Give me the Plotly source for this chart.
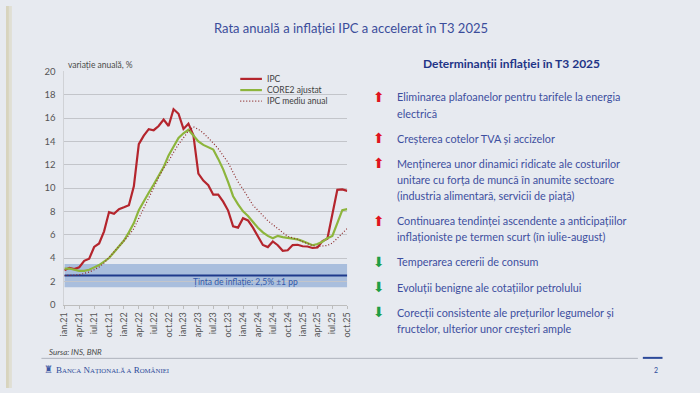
import plotly.graph_objects as go

# ---------------- data ----------------
months_ro = ["ian", "feb", "mar", "apr", "mai", "iun", "iul", "aug", "sep", "oct", "nov", "dec"]
years = ["21", "22", "23", "24", "25"]
categories = [f"{m}.{y}" for y in years for m in months_ro][:58]
tick_labels = categories[::3]

ipc = [2.96, 3.16, 3.05, 3.21, 3.76, 3.94, 4.95, 5.25, 6.29, 7.94, 7.80, 8.19,
       8.35, 8.53, 10.15, 13.76, 14.49, 15.05, 14.96, 15.32, 15.88, 15.32, 16.76, 16.37,
       15.07, 15.52, 14.53, 11.23, 10.64, 10.25, 9.43, 9.43, 8.83, 8.07, 6.72, 6.61,
       7.41, 7.23, 6.61, 5.90, 5.12, 4.94, 5.42, 5.10, 4.62, 4.67, 5.11, 5.14,
       5.01, 4.99, 4.86, 4.90, 5.45, 5.66, 7.84, 9.85, 9.88, 9.76]

core2_ajustat = [3.1, 3.1, 3.0, 2.9, 2.9, 3.0, 3.2, 3.4, 3.7, 4.0, 4.5, 5.0,
                 5.5, 6.2, 7.0, 8.1, 8.9, 9.6, 10.3, 11.0, 11.8, 12.8, 13.6, 14.3,
                 14.7, 15.0, 14.5, 14.0, 13.7, 13.5, 13.3, 12.5, 11.6, 10.5, 9.3, 8.6,
                 8.0, 7.6, 7.1, 6.6, 6.2, 5.9, 5.7, 5.9, 5.8, 5.75, 5.7, 5.6,
                 5.45, 5.3, 5.1, 5.2, 5.4, 5.7, 5.9, 7.0, 8.1, 8.2]

ipc_mediu_anual = [2.50, 2.51, 2.51, 2.56, 2.68, 2.79, 3.00, 3.23, 3.58, 4.06, 4.53, 5.04,
                   5.49, 5.94, 6.53, 7.41, 8.30, 9.23, 10.06, 10.90, 11.70, 12.32, 13.06, 13.75,
                   14.31, 14.89, 15.25, 15.04, 14.72, 14.32, 13.86, 13.37, 12.78, 12.18, 11.34, 10.53,
                   9.89, 9.20, 8.54, 8.09, 7.63, 7.19, 6.86, 6.50, 6.15, 5.86, 5.73, 5.61,
                   5.41, 5.22, 5.07, 4.99, 5.02, 5.08, 5.28, 5.68, 6.11, 6.54]

series_names = ["IPC", "CORE2 ajustat", "IPC mediu anual"]
target = 2.5
target_tol = 1.0
y_ticks = list(range(0, 21, 2))

title_text = "Rata anuală a inflației IPC a accelerat în T3 2025"
panel_title = "Determinanții inflației în T3 2025"
drivers = [
    ("up", ["Eliminarea plafoanelor pentru tarifele la energia", "electrică"]),
    ("up", ["Creșterea cotelor TVA și accizelor"]),
    ("up", ["Menținerea unor dinamici ridicate ale costurilor",
            "unitare cu forța de muncă în anumite sectoare",
            "(industria alimentară, servicii de piață)"]),
    ("up", ["Continuarea tendinței ascendente a anticipațiilor",
            "inflaționiste pe termen scurt (în iulie-august)"]),
    ("down", ["Temperarea cererii de consum"]),
    ("down", ["Evoluții benigne ale cotațiilor petrolului"]),
    ("down", ["Corecții consistente ale prețurilor legumelor și",
              "fructelor, ulterior unor creșteri ample"]),
]
driver_line_y = [[93.5, 110.7], [136], [161.7, 178.5, 195.3], [220.7, 237.5], [263.3], [289.3], [315, 331.5]]

# ---------------- styling ----------------
W, H = 700, 393
def px(x):
    return x / W
def py(y):
    return 1 - y / H

BG = "#e7eaf0"
RED = "#b4252d"
GREEN = "#8db53c"
DOT = "#8e2a2a"
FONT = "Lato"
colors = [RED, GREEN, DOT]

fig = go.Figure()
fig.add_trace(go.Scatter(x=categories, y=ipc, name=series_names[0], mode="lines",
                         line=dict(color=RED, width=2.2)))
fig.add_trace(go.Scatter(x=categories, y=core2_ajustat, name=series_names[1], mode="lines",
                         line=dict(color=GREEN, width=2.2)))
fig.add_trace(go.Scatter(x=categories, y=ipc_mediu_anual, name=series_names[2], mode="lines",
                         line=dict(color=DOT, width=1.2, dash="1px,2px")))

shapes = []
# target band and line
shapes.append(dict(type="rect", xref="x", yref="y", x0=0, x1=len(categories) - 1,
                   y0=target - target_tol, y1=target + target_tol,
                   fillcolor="#a9bedd", line=dict(width=0), layer="below"))
shapes.append(dict(type="line", xref="x", yref="y", x0=0, x1=len(categories) - 1,
                   y0=target, y1=target, line=dict(color="#1f3a8c", width=2), layer="below"))
# left edge tint (photo edge)
shapes.append(dict(type="rect", xref="paper", yref="paper", x0=0, x1=px(3), y0=0, y1=1,
                   fillcolor="#d8d4be", line=dict(width=0), layer="below"))
shapes.append(dict(type="rect", xref="paper", yref="paper", x0=px(3), x1=px(6), y0=0, y1=1,
                   fillcolor="#e0dfd4", line=dict(width=0), layer="below"))
# footer lines
shapes.append(dict(type="line", xref="paper", yref="paper", x0=px(36), x1=px(642),
                   y0=py(362.5), y1=py(362.5), line=dict(color="#aeb3bc", width=1)))
shapes.append(dict(type="line", xref="paper", yref="paper", x0=px(647), x1=px(667),
                   y0=py(362), y1=py(362), line=dict(color="#2c4a9a", width=2)))

annotations = []
# title
annotations.append(dict(text=title_text, x=0.5, y=py(23), xref="paper", yref="paper",
                        showarrow=False, xanchor="center", yanchor="middle",
                        font=dict(family=FONT, size=13, color="#3b4d9b")))
# y axis caption
annotations.append(dict(text="variație anuală, %", x=px(61), y=py(61), xref="paper", yref="paper",
                        showarrow=False, xanchor="left", yanchor="middle",
                        font=dict(family=FONT, size=8.5, color="#4a4a4a")))
# target label
annotations.append(dict(text="Ținta de inflație: 2,5% ±1 pp", x=px(243), y=py(283.5), xref="paper",
                        yref="paper", showarrow=False, xanchor="center", yanchor="middle",
                        font=dict(family=FONT, size=8.5, color="#3157a8")))
# manual legend
leg_y = [75, 86.5, 97.8]
dashes = ["solid", "solid", "1px,2px"]
widths = [2.2, 2.2, 1.2]
for name, c, ly, d, w in zip(series_names, colors, leg_y, dashes, widths):
    shapes.append(dict(type="line", xref="paper", yref="paper", x0=px(238), x1=px(260),
                       y0=py(ly), y1=py(ly), line=dict(color=c, width=w, dash=d)))
    annotations.append(dict(text=name, x=px(263), y=py(ly), xref="paper", yref="paper",
                            showarrow=False, xanchor="left", yanchor="middle",
                            font=dict(family=FONT, size=8.5, color="#404040")))
# right panel
annotations.append(dict(text=f"<b>{panel_title}</b>", x=px(514), y=py(59.3), xref="paper",
                        yref="paper", showarrow=False, xanchor="center", yanchor="middle",
                        font=dict(family=FONT, size=12, color="#1f3587")))
for (direction, lines), ys in zip(drivers, driver_line_y):
    arrow = "⬆" if direction == "up" else "⬇"
    acol = "#e0141e" if direction == "up" else "#1f9e46"
    annotations.append(dict(text=arrow, x=px(379), y=py(ys[0]), xref="paper",
                            yref="paper", showarrow=False, xanchor="center", yanchor="middle",
                            font=dict(family="DejaVu Sans", size=14, color=acol)))
    for line, ly in zip(lines, ys):
        annotations.append(dict(text=line, x=px(395), y=py(ly), xref="paper", yref="paper",
                                showarrow=False, xanchor="left", yanchor="middle",
                                font=dict(family=FONT, size=10.8, color="#3d4f9f")))
# footer
annotations.append(dict(text="<i>Sursa: INS, BNR</i>", x=px(42), y=py(355.5), xref="paper",
                        yref="paper", showarrow=False, xanchor="left", yanchor="middle",
                        font=dict(family=FONT, size=8, color="#4a4a4a")))
annotations.append(dict(text="♜", x=px(43), y=py(374), xref="paper", yref="paper",
                        showarrow=False, xanchor="center", yanchor="middle",
                        font=dict(family="DejaVu Sans", size=10, color="#3b56a3")))
annotations.append(dict(
    text="B<span style='font-size:6.8px'>ANCA</span> N<span style='font-size:6.8px'>AȚIONALĂ A</span> "
         "R<span style='font-size:6.8px'>OMÂNIEI</span>",
    x=px(49), y=py(374), xref="paper", yref="paper", showarrow=False, xanchor="left",
    yanchor="middle", font=dict(family="Liberation Serif", size=9, color="#2c4a9a")))
annotations.append(dict(text="2", x=px(660), y=py(374), xref="paper", yref="paper",
                        showarrow=False, xanchor="center", yanchor="middle",
                        font=dict(family=FONT, size=7, color="#2c4a9a")))

fig.update_layout(
    width=W, height=H, autosize=False,
    margin=dict(l=0, r=0, t=0, b=0),
    paper_bgcolor=BG, plot_bgcolor=BG,
    showlegend=False,
    shapes=shapes, annotations=annotations,
    xaxis=dict(type="category", domain=[px(59.3), px(346.7)], range=[0, len(categories) - 1],
               tickmode="array", tickvals=tick_labels, ticktext=tick_labels,
               tickangle=-90, tickfont=dict(family=FONT, size=9, color="#555555"),
               showgrid=False, showline=True, linecolor="#bdbdbd", linewidth=1,
               ticks="outside", ticklen=3, tickcolor="#bdbdbd", zeroline=False),
    yaxis=dict(domain=[py(307.3), py(67.3)], range=[0, 20], tickvals=y_ticks,
               tickfont=dict(family=FONT, size=9.5, color="#555555"),
               showgrid=True, gridcolor="#c3c5ca", gridwidth=1,
               showline=True, linecolor="#d0d2d6", zeroline=False, ticks="", ticklabelstandoff=6),
)

fig.write_html("out.html", config={"displayModeBar": False},
               post_script="document.body.style.margin='0';")
